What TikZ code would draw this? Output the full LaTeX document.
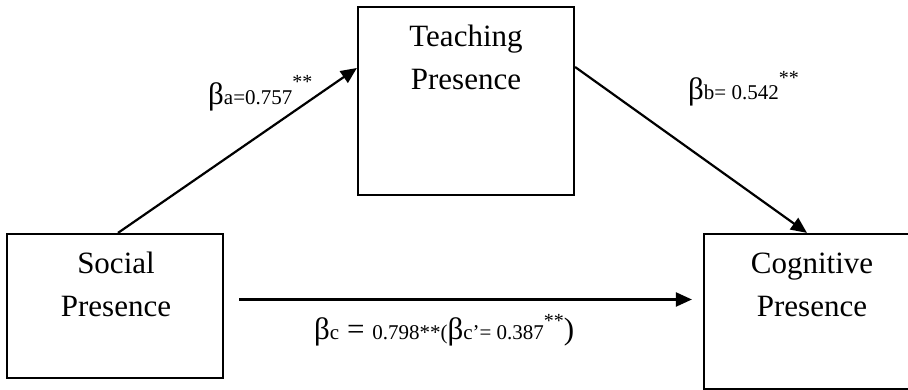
\documentclass[tikz,border=0pt]{standalone}
\usepackage{fontspec}
\setmainfont{Liberation Serif}
\usetikzlibrary{arrows.meta}
\newcommand{\bigf}{\fontsize{31}{43}\selectfont}
\newcommand{\smallf}{\fontsize{21}{21}\selectfont}
\newcommand{\astf}{\fontsize{20}{20}\selectfont}
\begin{document}
\begin{tikzpicture}[x=1pt,y=1pt,
  box/.style={draw=black, line width=2.2pt, minimum width=216pt, inner sep=0pt},
  boxtext/.style={align=center, anchor=base, inner sep=0pt, font=\bigf},
  lbl/.style={anchor=base west, inner sep=0pt},
  arr/.style={line width=2.2pt, -{Triangle[length=16pt,width=14pt]}}]
\useasboundingbox (0,0) rectangle (908,390);
\clip (0,0) rectangle (908,390);
\node[box, minimum height=188pt] (T) at (466,289) {};
\node[box, minimum height=144pt] (S) at (115,84) {};
\node[box, minimum height=155pt] (C) at (812,78.5) {};
\node[boxtext] (tT) at (466,300) {Teaching\\Presence};
\node[boxtext] (tS) at (116,73) {Social\\Presence};
\node[boxtext] (tC) at (812,73) {Cognitive\\Presence};
\coordinate (a0) at ([xshift=3pt]S.north);
\coordinate (a1) at ([yshift=33pt]T.west);
\draw[arr] (a0) -- (a1);
\coordinate (b0) at ([yshift=34pt]T.east);
\coordinate (b1) at ([xshift=-5pt]C.north);
\draw[arr] (b0) -- (b1);
\coordinate (c0) at ([shift={(15pt,6.5pt)}]S.east);
\path (C.west) ++(-11pt,0) coordinate (cw);
\draw[arr] (c0) -- (c0 -| cw);
\node[lbl] (la) at (208,285) {\bigf β\smallf a=0.757\raisebox{16pt}{\astf **}};
\node[lbl] (lb) at (688,290) {\bigf β\smallf b= 0.542\raisebox{15pt}{\astf **}};
\node[lbl] (lc) at (314,50) {\bigf β\smallf c\bigf{} = \smallf 0.798**(\bigf β\smallf c’= 0.387\raisebox{12pt}{\astf **}\bigf)};
\end{tikzpicture}
\end{document}
